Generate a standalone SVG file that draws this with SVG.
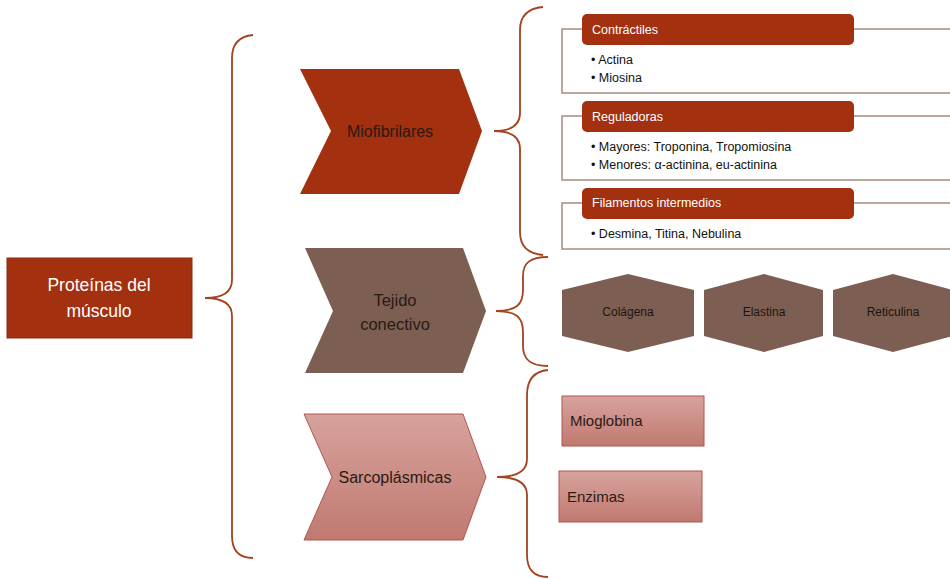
<svg xmlns="http://www.w3.org/2000/svg" width="950" height="579" viewBox="0 0 950 579">
<defs>
<linearGradient id="pink" x1="0" y1="0" x2="0" y2="1">
<stop offset="0" stop-color="#D7A39D"/>
<stop offset="1" stop-color="#C07970"/>
</linearGradient>
<style>
text{font-family:"Liberation Sans",Arial,sans-serif}
.brace{fill:none;stroke:#A4431F;stroke-width:1.8}
.outline{fill:#fff;stroke:#A88C80;stroke-width:1.5}
.tab{fill:#A3300F}
.tabt{fill:#fff;font-size:12.5px}
.bul{fill:#111;font-size:12.5px}
.hex{fill:#7C5E52}
.hext{fill:#1e1410;font-size:12px;text-anchor:middle}
.dark{fill:#2a1a14;text-anchor:middle}
.pinkbox{fill:url(#pink);stroke:#B0564E;stroke-width:1}
</style>
</defs>
<rect width="950" height="579" fill="#fff"/>

<g id="connectors">
<path class="brace" d="M253,35 Q232,37 232,58 L232,280 Q232,298 205,298 Q232,298 232,316 L232,536 Q232,558 253,558"/>
<path class="brace" d="M543,7 Q520,9 520,30 L520,113 Q520,131 494,131 Q520,131 520,149 L520,232 Q520,253 543,255"/>
<path class="brace" d="M548,257 C530,257 523,263 523,276 L523,290 C523,304 517,311 496,311 C517,311 523,318 523,332 L523,346 C523,359 530,366 548,366"/>
<path class="brace" d="M548,370 Q527,372 527,395 L527,459 Q527,477 497,477 Q527,477 527,495 L527,555 Q527,577 548,577"/>
</g>

<g id="root">
<rect x="7" y="258" width="185" height="80" fill="#A3300F" stroke="#8E2A0E" stroke-width="1"/>
<text x="99" y="291" fill="#fff" font-size="17.5" text-anchor="middle">Proteínas del</text>
<text x="99" y="317" fill="#fff" font-size="17.5" text-anchor="middle">músculo</text>
</g>

<g id="miofibrilares">
<polygon points="300,69 459,69 482,131 459,194 300,194 331,131" fill="#A3300F"/>
<text x="390" y="137" class="dark" font-size="16">Miofibrilares</text>
</g>

<g id="tejido">
<polygon points="305,248 463,248 486,311 463,373 305,373 333,311" fill="#7C5E52"/>
<text x="395" y="306" class="dark" font-size="16.5">Tejido</text>
<text x="395" y="330" class="dark" font-size="16.5">conectivo</text>
</g>

<g id="sarcoplasmicas">
<polygon points="304,414 463,414 486,477 463,540 304,540 332,477" class="pinkbox"/>
<text x="395" y="483" class="dark" font-size="16">Sarcoplásmicas</text>
</g>

<g id="contractiles">
<rect x="562" y="29" width="400" height="64" class="outline"/>
<rect x="582" y="14" width="272" height="31" rx="5" class="tab"/>
<text x="592" y="34" class="tabt">Contráctiles</text>
<text x="591" y="64" class="bul">• Actina</text>
<text x="591" y="82" class="bul">• Miosina</text>
</g>

<g id="reguladoras">
<rect x="562" y="116" width="400" height="64" class="outline"/>
<rect x="582" y="101" width="272" height="31" rx="5" class="tab"/>
<text x="592" y="121" class="tabt">Reguladoras</text>
<text x="591" y="151" class="bul">• Mayores: Troponina,  Tropomiosina</text>
<text x="591" y="169" class="bul">• Menores: α-actinina, eu-actinina</text>
</g>

<g id="filamentos">
<rect x="562" y="203" width="400" height="46" class="outline"/>
<rect x="582" y="188" width="272" height="31" rx="5" class="tab"/>
<text x="592" y="207" class="tabt">Filamentos intermedios</text>
<text x="591" y="238" class="bul">• Desmina, Titina, Nebulina</text>
</g>

<g id="colagena">
<polygon points="562,290 628,274 694,290 694,336 628,352 562,336" class="hex"/>
<text x="628" y="316" class="hext">Colágena</text>
</g>
<g id="elastina">
<polygon points="704,290 764,274 823,290 823,336 764,352 704,336" class="hex"/>
<text x="764" y="316" class="hext">Elastina</text>
</g>
<g id="reticulina">
<polygon points="833,290 893,274 953,290 953,336 893,352 833,336" class="hex"/>
<text x="893" y="316" class="hext">Reticulina</text>
</g>

<g id="mioglobina">
<rect x="562" y="396" width="142" height="50" class="pinkbox"/>
<text x="570" y="426" fill="#2a1a14" font-size="15">Mioglobina</text>
</g>
<g id="enzimas">
<rect x="559" y="471" width="143" height="51" class="pinkbox"/>
<text x="567" y="502" fill="#2a1a14" font-size="15">Enzimas</text>
</g>
</svg>
